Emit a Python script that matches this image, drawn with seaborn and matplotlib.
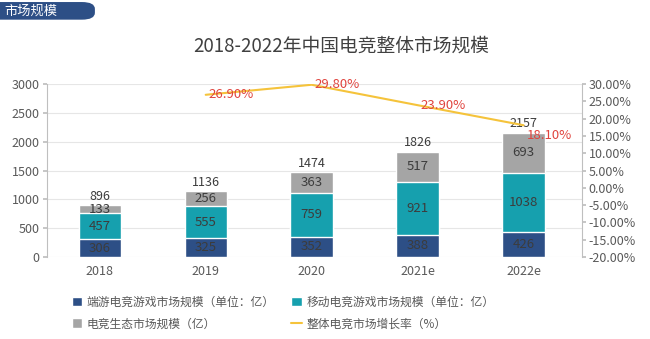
import matplotlib
matplotlib.use("Agg")
import matplotlib.pyplot as plt
from matplotlib.patches import FancyBboxPatch, Patch
from matplotlib.lines import Line2D
import seaborn as sns
import pandas as pd
import numpy as np

years = ["2018", "2019", "2020", "2021e", "2022e"]
pc_market = [306, 325, 352, 388, 426]
mobile_market = [457, 555, 759, 921, 1038]
eco_market = [133, 256, 363, 517, 693]
totals = [896, 1136, 1474, 1826, 2157]
growth_years = ["2019", "2020", "2021e", "2022e"]
growth_rate = [26.90, 29.80, 23.90, 18.10]

series_names = ["端游电竞游戏市场规模（单位：亿）", "移动电竞游戏市场规模（单位：亿）",
                "电竞生态市场规模（亿）", "整体电竞市场增长率（%）"]
title = "2018-2022年中国电竞整体市场规模"
tag = "市场规模"

C_DARK = "#2D4F86"
C_TEAL = "#16A0AE"
C_GRAY = "#A5A5A5"
C_LINE = "#F5C33B"
C_RED = "#E0443E"
C_TXT = "#595959"

sns.set_theme(style="white")
plt.rcParams["font.family"] = ["Noto Sans CJK SC", "DejaVu Sans"]

fig = plt.figure(figsize=(6.5, 3.39), dpi=100)
ax = fig.add_axes([0.072, 0.242, 0.823, 0.510])

df = pd.DataFrame({"year": years, "pc": pc_market, "mobile": mobile_market, "eco": eco_market})
df["s2"] = df["pc"] + df["mobile"]
df["s3"] = df["s2"] + df["eco"]

sns.barplot(data=df, x="year", y="s3", color=C_GRAY, saturation=1, width=0.4, ax=ax, zorder=2)
sns.barplot(data=df, x="year", y="s2", color=C_TEAL, saturation=1, width=0.4, ax=ax, zorder=3)
sns.barplot(data=df, x="year", y="pc", color=C_DARK, saturation=1, width=0.4, ax=ax, zorder=4)

for i in range(len(years)):
    ax.text(i, pc_market[i] / 2, str(pc_market[i]), ha="center", va="center", fontsize=9.5, color="#3c3c3c", zorder=6)
    ax.text(i, pc_market[i] + mobile_market[i] / 2, str(mobile_market[i]), ha="center", va="center", fontsize=9.5, color="#3c3c3c", zorder=6)
    ax.text(i, df["s2"][i] + eco_market[i] / 2, str(eco_market[i]), ha="center", va="center", fontsize=9.5, color="#3c3c3c", zorder=6)
    ax.text(i, totals[i] + 40, str(totals[i]), ha="center", va="bottom", fontsize=9, color="#3c3c3c", zorder=6)

ax.set_ylim(0, 3000)
ax.set_yticks(np.arange(0, 3001, 500))
ax.set_xlim(-0.5, 4.55)
ax.set_xlabel("")
ax.set_ylabel("")
ax.grid(axis="y", color="#E6E6E6", linewidth=0.8, zorder=0)
ax.set_axisbelow(True)
for s in ["top", "right", "bottom"]:
    ax.spines[s].set_visible(False)
ax.spines["left"].set_color("#BFBFBF")
ax.spines["left"].set_linewidth(0.8)
ax.tick_params(axis="y", length=3, color="#BFBFBF", labelsize=9, labelcolor=C_TXT, left=True, pad=2)
ax.tick_params(axis="x", length=0, labelsize=9, labelcolor=C_TXT, pad=6)

ax2 = ax.twinx()
xpos = [years.index(y) for y in growth_years]
ldf = pd.DataFrame({"x": xpos, "g": growth_rate})
sns.lineplot(data=ldf, x="x", y="g", color=C_LINE, linewidth=1.5, ax=ax2, zorder=5)
for k, (x, g) in enumerate(zip(xpos, growth_rate)):
    dy = -2.9 if k == len(xpos) - 1 else 0
    ax2.text(x + 0.03, g + dy, f"{g:.2f}%", ha="left", va="center", fontsize=9.5, color=C_RED, zorder=7)
ax2.set_ylim(-20, 30)
ax2.set_yticks(np.arange(-20, 31, 5))
ax2.set_yticklabels([f"{v:.2f}%" for v in np.arange(-20, 31, 5)])
ax2.set_ylabel("")
ax2.set_xlabel("")
for s in ["top", "left", "bottom"]:
    ax2.spines[s].set_visible(False)
ax2.spines["right"].set_color("#BFBFBF")
ax2.spines["right"].set_linewidth(0.8)
ax2.tick_params(axis="y", length=3, color="#BFBFBF", labelsize=9, labelcolor=C_TXT, right=True, pad=2)
ax2.grid(False)
ax2.set_xlim(-0.5, 4.55)

fig.text(0.525, 0.865, title, ha="center", va="center", fontsize=13.5, color="#404040")

tagbox = FancyBboxPatch((-0.05, 0.942), 0.196, 0.052, boxstyle="round,pad=0,rounding_size=0.02",
                        transform=fig.transFigure, facecolor=C_DARK, edgecolor="none")
fig.patches.append(tagbox)
fig.text(0.047, 0.968, tag, ha="center", va="center", fontsize=9.5, color="white")

h_dark = Patch(facecolor=C_DARK)
h_teal = Patch(facecolor=C_TEAL)
h_gray = Patch(facecolor=C_GRAY)
h_line = Line2D([0], [0], color=C_LINE, linewidth=1.5)
# column-major fill -> row-major appearance
handles = [h_dark, h_gray, h_teal, h_line]
labels = [series_names[0], series_names[2], series_names[1], series_names[3]]
fig.legend(handles, labels, ncol=2, loc="upper left", bbox_to_anchor=(0.11, 0.128),
           frameon=False, fontsize=8.5, labelcolor=C_TXT, handlelength=0.9, handleheight=0.9,
           handletextpad=0.4, columnspacing=1.4, labelspacing=0.75, borderaxespad=0, borderpad=0)

fig.savefig("out.png", dpi=100)
